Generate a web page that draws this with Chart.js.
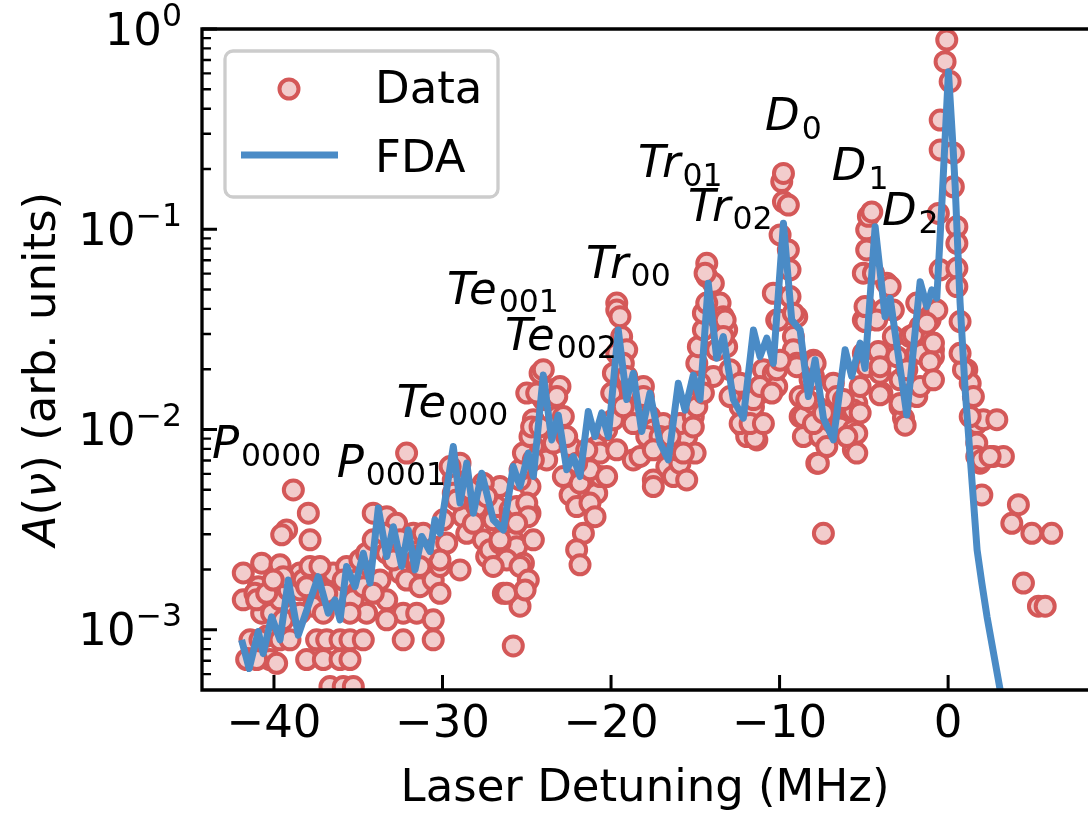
<!DOCTYPE html>
<html>
<head>
<meta charset="utf-8">
<script src="https://cdn.jsdelivr.net/npm/chart.js@4.4.1/dist/chart.umd.min.js"></script>
<style>
  html, body { margin: 0; padding: 0; background: #fff; }
  canvas { display: block; }
</style>
</head>
<body>
<canvas id="spectrum" width="1088" height="816"></canvas>
<script>
// measured spectrum (Laser detuning in MHz, A(nu) in arb. units)
const dataX = [
  -41.82,-40.73,-39.64,-41.82,-40.93,-40.73,-40.14,-39.64,-39.15,-38.46,
  -38.46,-38.85,-41.42,-40.43,-39.64,-39.05,-41.62,-40.24,-39.84,-38.85,
  -39.25,-39.54,-37.96,-37.86,-41.13,-39.45,
  -37.47,-36.87,-36.08,-35.49,-34.70,-38.06,-37.07,-36.08,-35.49,-36.68,
  -35.89,-35.29,-37.67,-37.07,-36.28,-37.47,-38.26,-36.48,-35.69,-35.09,
  -35.29,-34.70,-34.50,-34.90,-34.50,-34.11,-34.11,-33.31,-32.72,-33.51,
  -33.31,-33.71,-33.31,-32.52,-32.13,-31.73,-31.53,-32.13,-31.34,-32.33,
  -31.53,-30.55,-32.33,-30.55,-30.55,-30.15,-30.55,-32.13,-29.75,-29.95,
  -29.36,-29.36,-28.96,-29.55,-28.77,-28.56,-27.97,-27.58,-27.38,-26.99,
  -26.78,-26.19,-25.80,-25.60,-25.20,-25.99,-25.40,-24.81,-26.39,-25.40,
  -25.80,-28.96,-30.15,-25.00,-24.81,-24.61,-24.61,-24.02,-25.40,-26.59,
  -27.58,-27.18,-26.59,-26.19,-25.40,-25.99,-25.60,-25.00,-24.91,-26.19,
  -25.40,-25.20,-24.81,-24.71,-25.00,-24.21,-24.02,-23.52,-23.03,-23.42,
  -23.22,-23.82,-23.42,-24.61,-22.83,-22.43,-22.83,-22.43,-21.84,-22.04,
  -20.85,-20.65,-21.25,-20.85,-20.26,-21.25,-20.95,-21.64,-22.04,-21.84,
  -20.65,-20.26,-19.86,-19.66,-19.96,-19.86,-19.66,-19.66,-19.66,-19.47,
  -19.37,-19.07,-19.27,-19.07,-18.87,-18.48,-18.08,-18.08,-17.69,-17.49,
  -17.88,-16.90,-17.09,-18.68,-18.28,-17.49,-17.49,-16.69,-16.30,-15.91,
  -15.51,-16.10,-15.51,-15.01,-15.91,-15.12,-14.91,-15.12,-14.91,-14.82,
  -14.52,-14.52,-14.32,-14.32,-13.93,-13.53,-13.34,-13.14,-13.14,-13.73,
  -13.93,-12.94,-12.74,-12.34,-12.15,-11.95,-11.35,-11.55,-11.16,-10.96,
  -10.76,-10.37,-10.17,-10.37,-10.17,-9.38,-8.98,-9.18,-9.18,-8.98,
  -8.78,-8.78,-8.59,-7.99,-7.99,-7.79,-7.60,-7.79,-7.40,
  -14.42,-14.32,-13.23,-13.34,-12.94,-12.34,-11.45,-11.55,-11.16,-10.46,
  -10.17,-10.07,-9.97,-9.77,-9.87,-9.77,-9.48,-9.48,-9.38,-9.18,
  -8.98,-8.59,-8.19,-7.89,-7.99,-7.70,-6.81,-6.61,-6.81,-6.41,
  -5.82,-5.62,-5.62,-5.42,-5.22,-5.03,-4.83,-5.03,-5.03,-4.83,
  -4.83,-4.73,-4.53,-4.04,-4.04,-3.93,-3.64,-3.44,-3.25,-3.25,
  -3.04,-2.85,-2.65,-2.26,-1.86,-1.66,-1.26,-1.07,-0.87,-0.67,
  -0.87,-0.47,-0.58,-0.47,-0.47,-0.18,-0.08,0.12,0.31,0.31,
  0.52,0.52,0.52,0.71,1.11,1.31,1.50,1.70,2.09,2.89,
  1.70,1.70,1.90,2.69,3.28,
  -4.93,-4.14,-4.04,-4.04,-2.85,-2.55,-2.06,-1.56,-1.26,-0.87,
  -1.07,-1.86,0.91,1.31,2.00,2.49,2.00,4.17,3.78,4.97,
  6.15,4.47,5.36,5.76,-5.42,-5.42,-5.62,-5.22,-4.93,-3.84,
  -41.03,-40.43,-40.04,-39.45,-38.46,-38.06,-37.86,-40.83,-41.03,-37.27,
  -35.89,-36.87,-35.49,-34.11,-32.92,-32.52,-31.14,-31.14,-31.34,-30.15,
  -33.31,-29.16,-28.37,-28.17,-27.38,-26.59,-25.60,-24.61,-24.91,-25.10,
  -26.99,-24.41,-23.22,-24.21,-22.63,-22.04,-21.44,-19.27,-18.68,-17.49,
  -16.50,-15.71,-14.72,-14.52,-12.34,-11.75,-10.96,-9.97,-8.39,-7.99,
  -7.40,-7.20,-6.21,-6.01,-4.43,-4.24,-2.85,-2.45,-1.66,-0.87,
  -1.86,0.52,0.71
];
const dataY = [
  0.00192,0.00215,0.00211,0.00141,0.00164,0.00121,0.00121,0.00141,0.00158,0.00192,
  0.00158,0.00121,0.00089,0.00093,0.00089,0.00089,0.00071,0.00071,0.00068,0.00499,
  0.00315,0.00298,0.00382,0.00281,0.00152,0.00184,
  0.00089,0.00089,0.00089,0.00089,0.00089,0.00071,0.00071,0.00071,0.00071,0.00052,
  0.00052,0.00052,0.00131,0.00121,0.00152,0.00164,0.00177,0.00192,0.00207,0.00177,
  0.00141,0.00164,0.00121,0.00223,0.00241,0.00382,0.00281,0.00367,0.00340,0.00303,
  0.00241,0.00177,0.00141,0.00192,0.00241,0.00303,0.00223,0.00177,0.00164,0.00121,
  0.00121,0.00112,0.00089,0.00089,0.00177,0.00207,0.00260,0.00762,0.00271,0.00354,
  0.00560,0.00481,0.00679,0.00653,0.00367,0.00303,0.00412,0.00281,0.00232,0.00354,
  0.00412,0.00315,0.00281,0.00260,0.00215,0.00397,0.00397,0.00382,0.00152,0.00131,
  0.00083,0.00199,0.00223,0.00653,0.00519,0.00822,0.0112,0.0141,0.00560,0.00519,
  0.00539,0.00251,0.00271,0.00223,0.00207,0.00367,0.00412,0.00429,0.00367,0.00152,
  0.00629,0.00762,0.00922,0.0103,0.0152,0.0191,0.0199,0.0158,0.0164,0.0135,
  0.0116,0.00705,0.00855,0.00705,0.0116,0.00822,0.00582,0.00471,0.00539,0.00412,
  0.00481,0.00582,0.00629,0.00822,0.00582,0.00429,0.00367,0.00303,0.00251,0.00211,
  0.00762,0.00995,0.0112,0.00791,0.0152,0.0191,0.0240,0.0428,0.0395,0.0366,
  0.0291,0.0250,0.0214,0.0184,0.0158,0.0130,0.0164,0.0146,0.0116,0.00995,
  0.00922,0.0107,0.00922,0.00705,0.00733,0.00560,0.00519,0.00653,0.00582,0.00679,
  0.00560,0.00791,0.00922,0.00762,0.0107,0.0116,0.0130,0.0103,0.0214,0.0259,
  0.0314,0.0381,0.0580,0.0676,0.0537,0.0428,0.0366,0.0314,0.0259,0.0250,
  0.0184,0.0199,0.0146,0.0130,0.0103,0.00922,0.00887,0.0130,0.0152,0.0199,
  0.0158,0.0191,0.0164,0.0479,0.0352,0.0461,0.0366,0.0291,0.0250,0.0214,
  0.0146,0.0116,0.00922,0.0222,0.0184,0.0130,0.00922,0.00679,0.00303,
  0.0603,0.0428,0.0352,0.0291,0.0146,0.0107,0.00905,0.0141,0.0164,0.0152,
  0.0199,0.0352,0.0937,0.137,0.173,0.190,0.132,0.0788,0.0627,0.0381,
  0.0206,0.0116,0.0177,0.0214,0.0135,0.00679,0.0170,0.0146,0.0116,0.0103,
  0.0125,0.00995,0.00791,0.0135,0.0164,0.0240,0.0206,0.0352,0.0603,0.0788,
  0.0993,0.116,0.122,0.0240,0.0191,0.0152,0.0537,0.0517,0.0395,0.0291,
  0.0231,0.0130,0.0114,0.0291,0.0240,0.0327,0.0280,0.0352,0.0250,0.0395,
  0.0231,0.0627,0.120,0.249,0.351,0.687,0.882,0.546,0.240,0.163,
  0.103,0.0851,0.0638,0.0346,0.0199,0.0170,0.0146,0.0107,0.0112,0.0112,
  0.00855,0.00733,0.00679,0.00733,0.00733,
  0.0346,0.0245,0.0206,0.0149,0.0135,0.0105,0.0297,0.0240,0.0339,0.0270,
  0.0218,0.0146,0.0199,0.0116,0.00705,0.00733,0.00471,0.00421,0.00340,0.00303,
  0.00303,0.00171,0.00131,0.00131,0.00762,0.00957,0.0125,0.0121,0.0411,0.0395,
  0.00141,0.00152,0.00177,0.00112,0.00121,0.00164,0.00207,0.00089,0.00071,0.00207,
  0.00177,0.00152,0.00121,0.00152,0.00223,0.00281,0.00241,0.00303,0.00207,0.00152,
  0.00112,0.00445,0.00499,0.00340,0.00462,0.00281,0.00340,0.00281,0.00177,0.00158,
  0.00207,0.0152,0.0146,0.0103,0.00922,0.00679,0.00791,0.0130,0.0107,0.00791,
  0.00922,0.00762,0.0170,0.0152,0.0170,0.0107,0.0107,0.0222,0.0141,0.0107,
  0.0121,0.00822,0.0141,0.00922,0.0603,0.0352,0.0177,0.0199,0.0164,0.0177,
  0.0428,0.0517,0.0240
];

// FDA model curve
const fdaX = [
  -41.92,-41.47,-40.93,-40.64,-40.14,-39.64,-39.15,-38.56,-37.37,-36.78,
  -36.38,-36.08,-35.69,-35.19,-34.70,-34.30,-33.81,-33.31,-32.92,-32.42,
  -32.03,-31.63,-31.23,-30.74,-30.45,-30.15,-29.36,-28.96,-28.56,-28.17,
  -27.67,-26.99,-26.39,-25.80,-25.40,-24.91,-24.61,-24.02,-23.52,-23.13,
  -22.63,-22.24,-21.84,-21.35,-20.95,-20.55,-20.16,-19.57,-19.07,-18.68,
  -18.18,-17.69,-17.09,-16.60,-16.01,-15.61,-15.12,-14.72,-14.23,-13.73,
  -13.34,-12.74,-12.15,-11.55,-11.16,-10.76,-10.37,-9.77,-9.28,-8.78,
  -8.29,-7.89,-7.40,-6.81,-6.11,-5.72,-5.22,-4.93,-4.33,-3.74,
  -3.44,-2.45,-1.66,-1.26,-0.97,-0.67,-0.36,0.02,0.30,0.42,
  0.71,1.01,1.36,1.72,2.00,2.31,3.09,3.32
];
const fdaY = [
  0.00089,0.00064,0.00098,0.00076,0.00116,0.00089,0.00177,0.00094,0.00184,0.00121,
  0.00141,0.00112,0.00207,0.00164,0.00241,0.00171,0.00405,0.00232,0.00327,0.00207,
  0.00315,0.00199,0.00292,0.00246,0.00354,0.00303,0.00822,0.00429,0.00679,0.00382,
  0.00605,0.00354,0.00315,0.00653,0.00519,0.00762,0.00582,0.0187,0.00887,0.0118,
  0.00629,0.00732,0.00582,0.0123,0.00922,0.0121,0.00922,0.0314,0.0141,0.0191,
  0.00977,0.0152,0.00855,0.00705,0.0170,0.0125,0.0187,0.0141,0.0537,0.0227,
  0.0291,0.0141,0.0114,0.0314,0.0231,0.0286,0.0214,0.107,0.0352,0.0314,
  0.0146,0.0223,0.0114,0.00887,0.0250,0.0184,0.0270,0.0202,0.103,0.0366,
  0.0453,0.0118,0.0547,0.0411,0.0498,0.0453,0.140,0.612,0.250,0.163,
  0.0430,0.0158,0.0064,0.0025,0.00171,0.00116,0.0005,0.0004
];

const xTicks = [-40, -30, -20, -10, 0];
const yTicks = [1e-3, 1e-2, 1e-1, 1];

// peak labels: name, subscript, anchor (MHz, amplitude)
const peakNames = ['P', 'P', 'Te', 'Te', 'Te', 'Tr', 'Tr', 'Tr', 'D', 'D', 'D'];
const peakSubs = ['0000', '0001', '000', '001', '002', '00', '01', '02', '0', '1', '2'];
const peakX = [-43.68, -36.28, -32.72, -29.73, -26.29, -21.48, -18.40, -15.43, -10.86, -6.90, -3.93];
const peakY = [0.00721, 0.00582, 0.0116, 0.0424, 0.0250, 0.0571, 0.182, 0.110, 0.313, 0.176, 0.105];

const RED = '#d45858';
const PINK = '#f2cccc';
const BLUE = '#4a8bc6';
const FONT = '"DejaVu Sans"';
const BIG = 45, SMALL = 31.5;

const overlay = {
  id: 'overlay',
  afterDatasetsDraw(chart) {
    const { ctx, chartArea: a, scales: { x, y } } = chart;
    ctx.save();
    ctx.strokeStyle = '#000';
    ctx.lineWidth = 3.3;
    ctx.lineJoin = 'miter';
    ctx.lineCap = 'square';
    ctx.beginPath();
    ctx.moveTo(a.right + 10, a.top);
    ctx.lineTo(a.left, a.top);
    ctx.lineTo(a.left, a.bottom);
    ctx.lineTo(a.right + 10, a.bottom);
    ctx.stroke();

    // inward ticks
    ctx.lineWidth = 3;
    ctx.lineCap = 'butt';
    ctx.beginPath();
    xTicks.forEach(v => {
      const px = x.getPixelForValue(v);
      ctx.moveTo(px, a.bottom);
      ctx.lineTo(px, a.bottom - 15);
    });
    yTicks.forEach(v => {
      const py = y.getPixelForValue(v);
      ctx.moveTo(a.left, py);
      ctx.lineTo(a.left + 15, py);
    });
    ctx.stroke();
    ctx.lineWidth = 2.4;
    ctx.beginPath();
    for (let k = -4; k < 0; k++) {
      for (let m = 2; m <= 9; m++) {
        const v = m * Math.pow(10, k);
        if (v <= y.min || v >= y.max) continue;
        const py = y.getPixelForValue(v);
        ctx.moveTo(a.left, py);
        ctx.lineTo(a.left + 9, py);
      }
    }
    ctx.stroke();
    ctx.restore();
  },
  afterDraw(chart) {
    const { ctx, chartArea: a, scales: { x, y } } = chart;
    const big = BIG + 'px ' + FONT, small = SMALL + 'px ' + FONT, ital = 'italic ' + big;
    ctx.save();
    ctx.fillStyle = '#000';
    ctx.textAlign = 'left';
    ctx.textBaseline = 'alphabetic';

    // y tick labels 10^k
    yTicks.forEach(v => {
      const py = y.getPixelForValue(v);
      const e = Math.round(Math.log10(v));
      const sup = e < 0 ? '\u2212' + (-e) : String(e);
      ctx.font = small;
      const ws = ctx.measureText(sup).width;
      ctx.font = big;
      const wb = ctx.measureText('10').width;
      const right = a.left - 20;
      ctx.fillText('10', right - ws - wb, py + 15.5);
      ctx.font = small;
      ctx.fillText(sup, right - ws, py + 15.5 - 19);
    });

    // y axis title
    ctx.save();
    ctx.translate(55, 369);
    ctx.rotate(-Math.PI / 2);
    const parts = [['A', true], ['(', false], ['\u03bd', true], [') (arb. units)', false]];
    let total = 0;
    parts.forEach(p => {
      ctx.font = p[1] ? ital : big;
      total += ctx.measureText(p[0]).width;
    });
    let cx = -total / 2;
    parts.forEach(p => {
      ctx.font = p[1] ? ital : big;
      ctx.fillText(p[0], cx, 0);
      cx += ctx.measureText(p[0]).width;
    });
    ctx.restore();

    // peak labels
    peakNames.forEach((n, i) => {
      const px = x.getPixelForValue(peakX[i]);
      const py = y.getPixelForValue(peakY[i]);
      ctx.font = ital;
      ctx.fillText(n, px, py);
      const w = ctx.measureText(n).width;
      ctx.font = small;
      ctx.fillText(peakSubs[i], px + w + 2, py + 8.5);
    });

    // legend
    const lx = a.left + 23, ly = a.top + 22, lw = 273, lh = 146, r = 8;
    ctx.beginPath();
    ctx.moveTo(lx + r, ly);
    ctx.arcTo(lx + lw, ly, lx + lw, ly + lh, r);
    ctx.arcTo(lx + lw, ly + lh, lx, ly + lh, r);
    ctx.arcTo(lx, ly + lh, lx, ly, r);
    ctx.arcTo(lx, ly, lx + lw, ly, r);
    ctx.closePath();
    ctx.fillStyle = '#fff';
    ctx.fill();
    ctx.strokeStyle = '#cccccc';
    ctx.lineWidth = 3.3;
    ctx.stroke();

    ctx.beginPath();
    ctx.arc(lx + 64, ly + 38, 9.5, 0, Math.PI * 2);
    ctx.fillStyle = PINK;
    ctx.fill();
    ctx.strokeStyle = RED;
    ctx.lineWidth = 4;
    ctx.stroke();

    ctx.beginPath();
    ctx.moveTo(lx + 16, ly + 104);
    ctx.lineTo(lx + 113, ly + 104);
    ctx.strokeStyle = BLUE;
    ctx.lineWidth = 7;
    ctx.stroke();

    ctx.fillStyle = '#000';
    ctx.font = big;
    ctx.fillText('Data', lx + 150, ly + 52);
    ctx.fillText('FDA', lx + 150, ly + 121);
    ctx.restore();
  }
};

new Chart(document.getElementById('spectrum'), {
  type: 'scatter',
  data: {
    datasets: [
      {
        type: 'line',
        label: 'FDA',
        data: fdaX.map((v, i) => ({ x: v, y: fdaY[i] })),
        borderColor: BLUE,
        borderWidth: 7,
        borderJoinStyle: 'round',
        pointRadius: 0,
        tension: 0,
        fill: false,
        order: 0
      },
      {
        label: 'Data',
        data: dataX.map((v, i) => ({ x: v, y: dataY[i] })),
        pointRadius: 9.5,
        pointBorderWidth: 4,
        pointBackgroundColor: PINK,
        pointBorderColor: RED,
        order: 1
      }
    ]
  },
  options: {
    responsive: false,
    animation: false,
    events: [],
    layout: { autoPadding: false, padding: { top: 29, left: 0, right: 0, bottom: 0 } },
    plugins: { legend: { display: false }, tooltip: { enabled: false } },
    scales: {
      x: {
        type: 'linear',
        min: -44.27,
        max: 8.3,
        afterBuildTicks: s => { s.ticks = xTicks.map(v => ({ value: v })); },
        afterFit: s => { s.height = 126; s.paddingLeft = 0; s.paddingRight = 0; },
        grid: { display: false, drawTicks: false },
        border: { display: false },
        ticks: {
          color: '#000',
          font: { family: 'DejaVu Sans', size: BIG },
          padding: 8,
          maxRotation: 0,
          autoSkip: false,
          callback: v => (v < 0 ? '\u2212' + Math.abs(v) : String(v))
        },
        title: {
          display: true,
          text: 'Laser Detuning (MHz)',
          color: '#000',
          font: { family: 'DejaVu Sans', size: BIG },
          padding: { top: 0, bottom: 0 }
        }
      },
      y: {
        type: 'logarithmic',
        min: 5e-4,
        max: 1,
        afterFit: s => { s.width = 202; },
        ticks: { display: false },
        grid: { display: false, drawTicks: false },
        border: { display: false }
      }
    }
  },
  plugins: [overlay]
});
</script>
</body>
</html>
